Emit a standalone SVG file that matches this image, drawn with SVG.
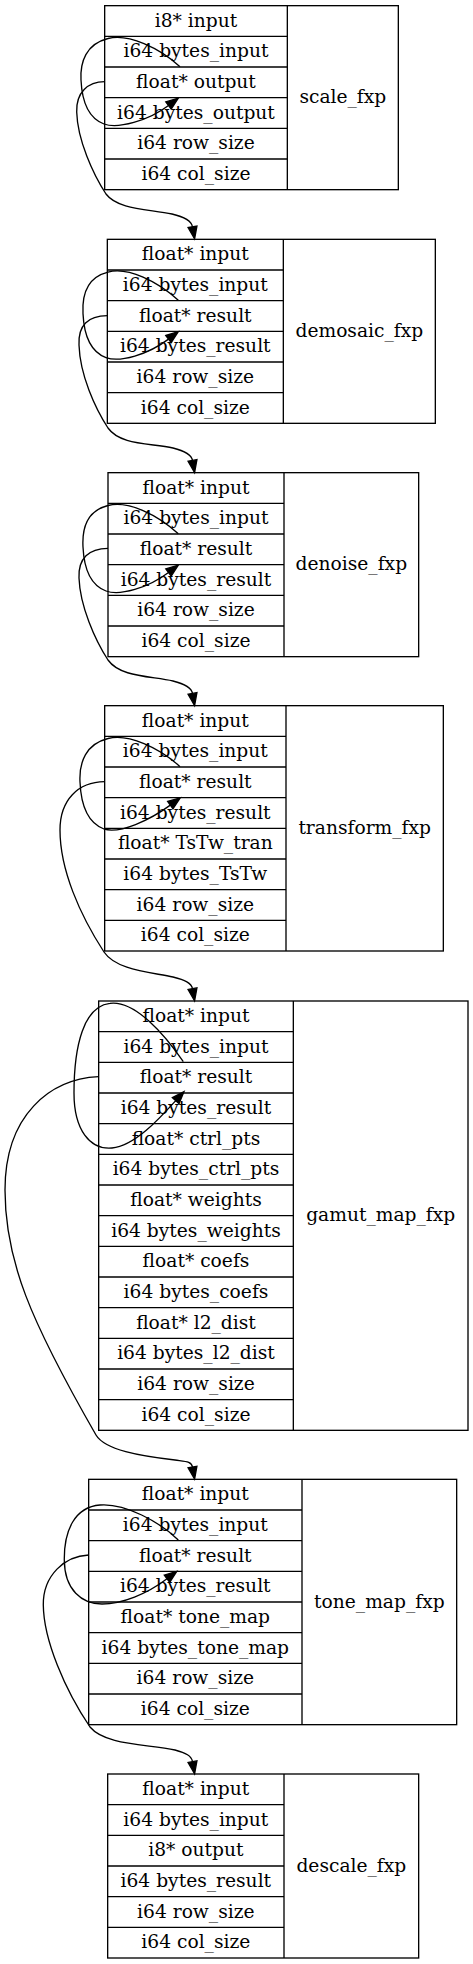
<svg xmlns="http://www.w3.org/2000/svg" width="473" height="1964" viewBox="0 0 473 1964">
<style>
.box{fill:none;stroke:#000;stroke-width:1.33}
.sep{stroke:#000;stroke-width:1.33}
text{font-family:"DejaVu Serif","Liberation Serif",serif;font-size:18.67px;fill:#000;text-anchor:middle}
.edge{fill:none;stroke:#000;stroke-width:1.33}
</style>
<defs>
<marker id="ah" markerUnits="userSpaceOnUse" orient="auto" refX="0" refY="0" markerWidth="14" markerHeight="10" overflow="visible">
<path d="M0,-4.5 L12.3,0 L0,4.5 z" fill="#000" stroke="#000" stroke-width="1.33"/>
</marker>
</defs>
<rect width="473" height="1964" fill="#fff"/>

<g id="scale_fxp">
<rect class="box" x="104.67" y="5.67" width="293.66" height="184"/>
<line class="sep" x1="287.33" y1="5.67" x2="287.33" y2="189.67"/>
<line class="sep" x1="104.67" y1="36.33" x2="287.33" y2="36.33"/>
<line class="sep" x1="104.67" y1="67" x2="287.33" y2="67"/>
<line class="sep" x1="104.67" y1="97.67" x2="287.33" y2="97.67"/>
<line class="sep" x1="104.67" y1="128.33" x2="287.33" y2="128.33"/>
<line class="sep" x1="104.67" y1="159" x2="287.33" y2="159"/>
<text x="196" y="26.5">i8* input</text>
<text x="196" y="57.2">i64 bytes_input</text>
<text x="196" y="87.8">float* output</text>
<text x="196" y="118.5">i64 bytes_output</text>
<text x="196" y="149.2">i64 row_size</text>
<text x="196" y="179.8">i64 col_size</text>
<text x="342.83" y="103.2">scale_fxp</text>
</g>

<g id="demosaic_fxp">
<rect class="box" x="107.33" y="239.33" width="328" height="184"/>
<line class="sep" x1="283.33" y1="239.33" x2="283.33" y2="423.33"/>
<line class="sep" x1="107.33" y1="270" x2="283.33" y2="270"/>
<line class="sep" x1="107.33" y1="300.67" x2="283.33" y2="300.67"/>
<line class="sep" x1="107.33" y1="331.33" x2="283.33" y2="331.33"/>
<line class="sep" x1="107.33" y1="362" x2="283.33" y2="362"/>
<line class="sep" x1="107.33" y1="392.67" x2="283.33" y2="392.67"/>
<text x="195.33" y="260.2">float* input</text>
<text x="195.33" y="290.8">i64 bytes_input</text>
<text x="195.33" y="321.5">float* result</text>
<text x="195.33" y="352.2">i64 bytes_result</text>
<text x="195.33" y="382.8">i64 row_size</text>
<text x="195.33" y="413.5">i64 col_size</text>
<text x="359.33" y="336.8">demosaic_fxp</text>
</g>

<g id="denoise_fxp">
<rect class="box" x="108" y="472.67" width="310.67" height="184"/>
<line class="sep" x1="284" y1="472.67" x2="284" y2="656.67"/>
<line class="sep" x1="108" y1="503.33" x2="284" y2="503.33"/>
<line class="sep" x1="108" y1="534" x2="284" y2="534"/>
<line class="sep" x1="108" y1="564.67" x2="284" y2="564.67"/>
<line class="sep" x1="108" y1="595.33" x2="284" y2="595.33"/>
<line class="sep" x1="108" y1="626" x2="284" y2="626"/>
<text x="196" y="493.5">float* input</text>
<text x="196" y="524.2">i64 bytes_input</text>
<text x="196" y="554.8">float* result</text>
<text x="196" y="585.5">i64 bytes_result</text>
<text x="196" y="616.2">i64 row_size</text>
<text x="196" y="646.8">i64 col_size</text>
<text x="351.33" y="570.2">denoise_fxp</text>
</g>

<g id="transform_fxp">
<rect class="box" x="104.67" y="705.67" width="338.66" height="245.33"/>
<line class="sep" x1="286" y1="705.67" x2="286" y2="951"/>
<line class="sep" x1="104.67" y1="736.33" x2="286" y2="736.33"/>
<line class="sep" x1="104.67" y1="767" x2="286" y2="767"/>
<line class="sep" x1="104.67" y1="797.67" x2="286" y2="797.67"/>
<line class="sep" x1="104.67" y1="828.33" x2="286" y2="828.33"/>
<line class="sep" x1="104.67" y1="859" x2="286" y2="859"/>
<line class="sep" x1="104.67" y1="889.67" x2="286" y2="889.67"/>
<line class="sep" x1="104.67" y1="920.33" x2="286" y2="920.33"/>
<text x="195.33" y="726.5">float* input</text>
<text x="195.33" y="757.2">i64 bytes_input</text>
<text x="195.33" y="787.8">float* result</text>
<text x="195.33" y="818.5">i64 bytes_result</text>
<text x="195.33" y="849.2">float* TsTw_tran</text>
<text x="195.33" y="879.8">i64 bytes_TsTw</text>
<text x="195.33" y="910.5">i64 row_size</text>
<text x="195.33" y="941.2">i64 col_size</text>
<text x="364.67" y="833.8">transform_fxp</text>
</g>

<g id="gamut_map_fxp">
<rect class="box" x="98.67" y="1001" width="369.33" height="429.33"/>
<line class="sep" x1="293.33" y1="1001" x2="293.33" y2="1430.33"/>
<line class="sep" x1="98.67" y1="1031.67" x2="293.33" y2="1031.67"/>
<line class="sep" x1="98.67" y1="1062.33" x2="293.33" y2="1062.33"/>
<line class="sep" x1="98.67" y1="1093" x2="293.33" y2="1093"/>
<line class="sep" x1="98.67" y1="1123.67" x2="293.33" y2="1123.67"/>
<line class="sep" x1="98.67" y1="1154.33" x2="293.33" y2="1154.33"/>
<line class="sep" x1="98.67" y1="1185" x2="293.33" y2="1185"/>
<line class="sep" x1="98.67" y1="1215.67" x2="293.33" y2="1215.67"/>
<line class="sep" x1="98.67" y1="1246.33" x2="293.33" y2="1246.33"/>
<line class="sep" x1="98.67" y1="1277" x2="293.33" y2="1277"/>
<line class="sep" x1="98.67" y1="1307.67" x2="293.33" y2="1307.67"/>
<line class="sep" x1="98.67" y1="1338.33" x2="293.33" y2="1338.33"/>
<line class="sep" x1="98.67" y1="1369" x2="293.33" y2="1369"/>
<line class="sep" x1="98.67" y1="1399.67" x2="293.33" y2="1399.67"/>
<text x="196" y="1021.8">float* input</text>
<text x="196" y="1052.5">i64 bytes_input</text>
<text x="196" y="1083.2">float* result</text>
<text x="196" y="1113.8">i64 bytes_result</text>
<text x="196" y="1144.5">float* ctrl_pts</text>
<text x="196" y="1175.2">i64 bytes_ctrl_pts</text>
<text x="196" y="1205.8">float* weights</text>
<text x="196" y="1236.5">i64 bytes_weights</text>
<text x="196" y="1267.2">float* coefs</text>
<text x="196" y="1297.8">i64 bytes_coefs</text>
<text x="196" y="1328.5">float* l2_dist</text>
<text x="196" y="1359.2">i64 bytes_l2_dist</text>
<text x="196" y="1389.8">i64 row_size</text>
<text x="196" y="1420.5">i64 col_size</text>
<text x="380.67" y="1221.2">gamut_map_fxp</text>
</g>

<g id="tone_map_fxp">
<rect class="box" x="88.67" y="1479.33" width="368" height="245.34"/>
<line class="sep" x1="302" y1="1479.33" x2="302" y2="1724.67"/>
<line class="sep" x1="88.67" y1="1510" x2="302" y2="1510"/>
<line class="sep" x1="88.67" y1="1540.67" x2="302" y2="1540.67"/>
<line class="sep" x1="88.67" y1="1571.33" x2="302" y2="1571.33"/>
<line class="sep" x1="88.67" y1="1602" x2="302" y2="1602"/>
<line class="sep" x1="88.67" y1="1632.67" x2="302" y2="1632.67"/>
<line class="sep" x1="88.67" y1="1663.33" x2="302" y2="1663.33"/>
<line class="sep" x1="88.67" y1="1694" x2="302" y2="1694"/>
<text x="195.33" y="1500.2">float* input</text>
<text x="195.33" y="1530.8">i64 bytes_input</text>
<text x="195.33" y="1561.5">float* result</text>
<text x="195.33" y="1592.2">i64 bytes_result</text>
<text x="195.33" y="1622.8">float* tone_map</text>
<text x="195.33" y="1653.5">i64 bytes_tone_map</text>
<text x="195.33" y="1684.2">i64 row_size</text>
<text x="195.33" y="1714.8">i64 col_size</text>
<text x="379.33" y="1607.5">tone_map_fxp</text>
</g>

<g id="descale_fxp">
<rect class="box" x="107.67" y="1774" width="311" height="184"/>
<line class="sep" x1="284" y1="1774" x2="284" y2="1958"/>
<line class="sep" x1="107.67" y1="1804.67" x2="284" y2="1804.67"/>
<line class="sep" x1="107.67" y1="1835.33" x2="284" y2="1835.33"/>
<line class="sep" x1="107.67" y1="1866" x2="284" y2="1866"/>
<line class="sep" x1="107.67" y1="1896.67" x2="284" y2="1896.67"/>
<line class="sep" x1="107.67" y1="1927.33" x2="284" y2="1927.33"/>
<text x="195.83" y="1794.8">float* input</text>
<text x="195.83" y="1825.5">i64 bytes_input</text>
<text x="195.83" y="1856.2">i8* output</text>
<text x="195.83" y="1886.8">i64 bytes_result</text>
<text x="195.83" y="1917.5">i64 row_size</text>
<text x="195.83" y="1948.2">i64 col_size</text>
<text x="351.33" y="1871.5">descale_fxp</text>
</g>

<g id="connectors">
<path class="edge" marker-end="url(#ah)" d="M180,66.7 C160,48 128,33 108,38.5 C86,44 80,62 81,80 C82,102 88,118 104,124 C118,129 148,121 168.5,105.5"/>
<path class="edge" marker-end="url(#ah)" d="M104.7,81.7 C88,82 76,92 76.7,112 C77.5,140 93,174 106,194 C118,210 150,209 172,214 C185,217 191.5,221 192.5,226.8"/>

<path class="edge" marker-end="url(#ah)" d="M178.3,300.3 C158,281.6 128,266.6 108,272.1 C86,277.6 82,295.6 83,313.6 C84,335.6 90,351.6 106,357.6 C120,362.6 148,354.6 168.5,339.1"/>
<path class="edge" marker-end="url(#ah)" d="M107.3,315.7 C88,316 78,325 79,345 C80,375 95,408 108,428 C120,445 150,443 173,448 C185,451 191.5,454.6 192.5,460.4"/>

<path class="edge" marker-end="url(#ah)" d="M178.3,533.7 C158,515 128,500 108,505.5 C86,511 82,529 83,547 C84,569 90,585 106,591 C120,596 148,588 168.5,572.5"/>
<path class="edge" marker-end="url(#ah)" d="M108,548.3 C89,548.5 78,558 79,578 C80,606 95,640 108,660 C120,677 150,676 173,681 C185,684 191.5,687.6 192.5,693.4"/>

<path class="edge" marker-end="url(#ah)" d="M180,766.7 C160,748 128,733 108,738.5 C86,744 79,762 80,782 C81,806 88,823 104,829 C120,834 150,820 170.3,805.1"/>
<path class="edge" marker-end="url(#ah)" d="M104.7,781.7 C78,782 60,800 60,830 C60,870 80,915 104,952 C116,970 150,972 173,977 C185,980 191.5,982.9 192.5,988.7"/>

<path class="edge" marker-end="url(#ah)" d="M183.3,1061.7 C165,1035 135,1000 110,1003.3 C84,1006 74,1045 74,1093 C74,1130 90,1150 112,1148 C135,1146 160,1118 175.7,1100.7"/>
<path class="edge" marker-end="url(#ah)" d="M98.7,1076.7 C50,1079 5,1115 5,1190 C5,1260 30,1320 96,1435 C105,1450 140,1456 175,1460 C186,1461.5 191.5,1461.2 192.5,1467"/>

<path class="edge" marker-end="url(#ah)" d="M178.3,1540 C160,1522 125,1503 100,1505 C75,1507 64,1530 64.3,1560 C64.5,1590 82,1604 102,1604 C122,1604 147,1594 167,1578.8"/>
<path class="edge" marker-end="url(#ah)" d="M88.7,1555 C65,1556 43,1575 43.3,1605 C43.6,1640 65,1690 90,1727 C105,1745 145,1744 175,1750 C186,1753 191.5,1755.9 192.5,1761.7"/>
</g>
</svg>
